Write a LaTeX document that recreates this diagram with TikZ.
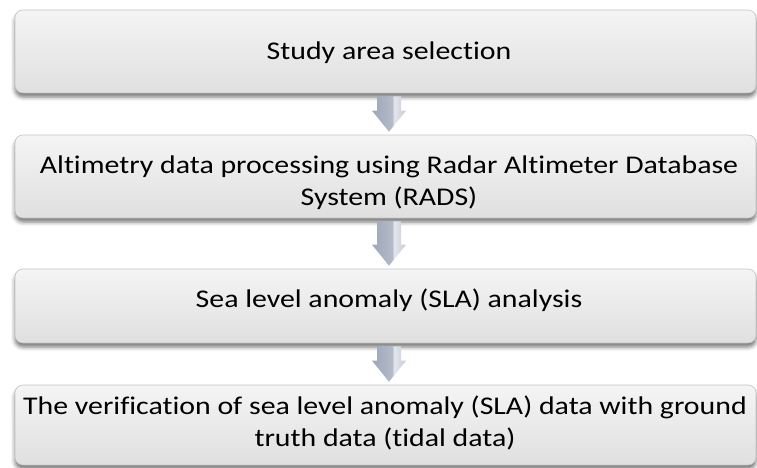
\documentclass[tikz,border=0pt]{standalone}
\usepackage{fontspec}
\setmainfont{Carlito}[FakeStretch=1.17, Ligatures={NoCommon,NoRequired,NoContextual}]
\usetikzlibrary{calc,shadows.blur}
\definecolor{bxA}{HTML}{8A8A8A}
\definecolor{bxB}{HTML}{C4C4C4}
\definecolor{bxC}{HTML}{DADADA}
\definecolor{bxD}{HTML}{FFFFFF}
\definecolor{bxLine}{HTML}{C4C4C4}
\definecolor{arA}{HTML}{8B95A9}
\definecolor{arB}{HTML}{B4BBCA}
\definecolor{arC}{HTML}{E4E7EE}
\definecolor{arD}{HTML}{9BA1AE}
\pgfdeclareverticalshading{boxshade}{100bp}{color(0bp)=(bxA); color(4bp)=(bxB); color(12bp)=(bxC); color(100bp)=(bxD)}
\pgfdeclarehorizontalshading{arrowshade}{100bp}{color(0bp)=(arA); color(55bp)=(arB); color(57bp)=(arC); color(100bp)=(arD)}
\begin{document}
\begin{tikzpicture}[x=1pt,y=-1pt,
  stepbox/.style={rounded corners=8pt, draw=bxLine, line width=0.6pt, shading=boxshade,
    minimum width=741pt, inner sep=0pt,
    blur shadow={shadow xshift=0pt, shadow yshift=-4pt, shadow opacity=55, shadow blur radius=4pt}},
  txt/.style={font=\fontsize{25.5}{32}\selectfont, align=center, text=black, inner sep=0pt},
  arrowfill/.style={shading=arrowshade}]
\useasboundingbox (0,0) rectangle (757,468);
\node[stepbox, minimum height=83pt] (b1) at (385.5,51.5) {};
\node[stepbox, minimum height=83pt] (b2) at (385.5,176.5) {};
\node[stepbox, minimum height=74pt] (b3) at (385.5,306) {};
\node[stepbox, minimum height=80pt] (b4) at (385.5,425) {};
\node[txt] (t1) at (389,53) {Study area selection};
\node[txt] (t2) at (389,183) {Altimetry data processing using Radar Altimeter Database\\System (RADS)};
\node[txt] (t3) at (389,300) {Sea level anomaly (SLA) analysis};
\node[txt] (t4) at (385,423) {The verification of sea level anomaly (SLA) data with ground\\truth data (tidal data)};
\foreach \a/\b in {b1/b2,b2/b3,b3/b4}{
  \path[arrowfill] let \p1=($(\a.south)+(3.5,3)$), \p2=($(\b.north)+(3.5,-3)$) in
    (\x1-12pt,\y1) -- (\x1+12pt,\y1) -- (\x1+12pt,\y2+21pt) -- (\x1+17pt,\y2+21pt)
    -- (\x1,\y2) -- (\x1-17pt,\y2+21pt) -- (\x1-12pt,\y2+21pt) -- cycle;
}
\end{tikzpicture}
\end{document}
